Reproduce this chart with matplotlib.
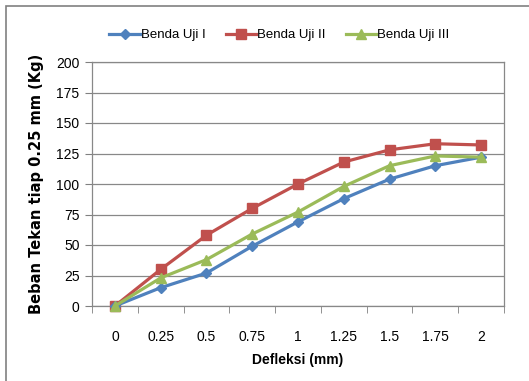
import numpy as np
import matplotlib.pyplot as plt
from matplotlib.patches import Rectangle

kategori = ['0', '0.25', '0.5', '0.75', '1', '1.25', '1.5', '1.75', '2']
benda_uji_1 = [0, 15, 27, 49, 69, 88, 104, 115, 122]
benda_uji_2 = [0, 30, 58, 80, 100, 118, 128, 133, 132]
benda_uji_3 = [0, 23, 38, 59, 77, 98, 115, 123, 122]

plt.rcParams['font.family'] = ['Liberation Sans', 'DejaVu Sans']

fig = plt.figure(figsize=(5.29, 3.81), dpi=100)
ax = fig.add_axes([92 / 529, 1 - 306 / 381, 412 / 529, 244 / 381])

# bingkai luar
fig.patches.append(Rectangle((6 / 529, -0.05), 1.2, 1 - 6 / 381 + 0.05,
                             transform=fig.transFigure, fill=False,
                             edgecolor='#808080', linewidth=1.2))

x = np.arange(len(kategori))
ax.plot(x, benda_uji_1, color='#4F81BD', marker='D', markersize=5.5, linewidth=2.3,
        label='Benda Uji I', clip_on=False, zorder=5)
ax.plot(x, benda_uji_2, color='#C0504D', marker='s', markersize=7.5, linewidth=2.3,
        label='Benda Uji II', clip_on=False, zorder=4)
ax.plot(x, benda_uji_3, color='#9BBB59', marker='^', markersize=7.5, linewidth=2.3,
        label='Benda Uji III', clip_on=False, zorder=6)

ax.set_xlim(-0.5, len(kategori) - 0.5)
ax.set_ylim(0, 200)
ax.set_yticks(range(0, 201, 25))
ax.set_xticks(x)
ax.set_xticklabels(kategori)
ax.set_xticks(np.arange(-0.5, len(kategori), 1), minor=True)
ax.tick_params(axis='x', which='major', length=0, pad=17, labelsize=10)
ax.tick_params(axis='x', which='minor', length=5, color='#808080')
ax.tick_params(axis='y', length=5, color='#808080', labelsize=10, pad=4)
ax.grid(axis='y', color='#888888', linewidth=0.9)
ax.set_axisbelow(True)
for s in ax.spines.values():
    s.set_color('#888888')
    s.set_linewidth(0.9)

ax.set_xlabel('Defleksi (mm)', fontweight='bold', fontsize=10, labelpad=7)
ax.set_ylabel('Beban Tekan tiap 0.25 mm (Kg)', fontweight='bold', fontsize=10.5,
              family=['DejaVu Sans'], labelpad=9)

ax.legend(loc='center', bbox_to_anchor=(0.455, 1.11), ncol=3, frameon=False,
          fontsize=9.5, handlelength=2.3, columnspacing=1.5, handletextpad=0.1)

fig.savefig('out.png', dpi=100)
